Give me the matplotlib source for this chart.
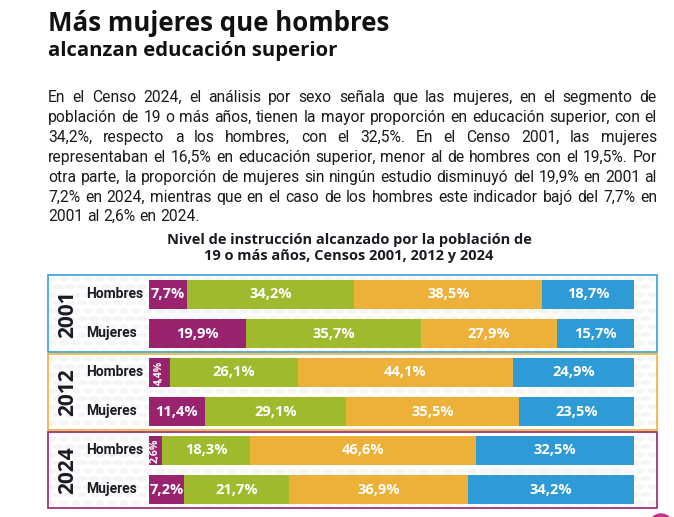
import matplotlib
matplotlib.use('Agg')
import matplotlib.pyplot as plt
from matplotlib.patches import Rectangle, Circle, Ellipse

# ---------------- data ----------------
years = ['2001', '2012', '2024']
sexes = ['Hombres', 'Mujeres']
levels = ['Ninguno', 'Básico', 'Secundario', 'Superior']
ninguno = [7.7, 19.9, 4.4, 11.4, 2.6, 7.2]
basico = [34.2, 35.7, 26.1, 29.1, 18.3, 21.7]
secundario = [38.5, 27.9, 44.1, 35.5, 46.6, 36.9]
superior = [18.7, 15.7, 24.9, 23.5, 32.5, 34.2]
labels_txt = [
    ['7,7%', '34,2%', '38,5%', '18,7%'],
    ['19,9%', '35,7%', '27,9%', '15,7%'],
    ['4,4%', '26,1%', '44,1%', '24,9%'],
    ['11,4%', '29,1%', '35,5%', '23,5%'],
    ['2,6%', '18,3%', '46,6%', '32,5%'],
    ['7,2%', '21,7%', '36,9%', '34,2%'],
]
title = 'Más mujeres que hombres'
subtitle = 'alcanzan educación superior'
body = [
    'En el Censo 2024, el análisis por sexo señala que las mujeres, en el segmento de',
    'población de 19 o más años, tienen la mayor proporción en educación superior, con el',
    '34,2%, respecto a los hombres, con el 32,5%. En el Censo 2001, las mujeres',
    'representaban el 16,5% en educación superior, menor al de hombres con el 19,5%. Por',
    'otra parte, la proporción de mujeres sin ningún estudio disminuyó del 19,9% en 2001 al',
    '7,2% en 2024, mientras que en el caso de los hombres este indicador bajó del 7,7% en',
    '2001 al 2,6% en 2024.',
]
chart_title = ['Nivel de instrucción alcanzado por la población de',
               '19 o más años, Censos 2001, 2012 y 2024']

colors = ['#9A2370', '#A0BA2E', '#EDB038', '#2E9BD6']
box_colors = ['#3A9FD5', '#EDB038', '#9A2370']
dark = '#1b1b24'

W, H = 674, 517
fig = plt.figure(figsize=(W / 100, H / 100), dpi=100)
fig.patch.set_facecolor('white')
ax0 = fig.add_axes([0, 0, 1, 1])
ax0.set_xlim(0, W)
ax0.set_ylim(H, 0)
ax0.axis('off')
r = fig.canvas.get_renderer()


def width(s, **kw):
    t = ax0.text(0, 0, s, **kw)
    w = t.get_window_extent(r).width
    t.remove()
    return w


def fit(s, target, base=10, **kw):
    return base * target / width(s, fontsize=base, **kw)


# faint dotted background pattern (decoration)
for yy in range(279, 508, 8):
    off = 0 if ((yy - 279) // 8) % 2 == 0 else 6
    for xx in range(52 + off, 656, 12):
        ax0.add_patch(Ellipse((xx, yy), 10, 5, color='#f5f5f5', lw=0, zorder=0))

HEAD = dict(family='Open Sans', fontweight='bold', color='#111111')
fs_t = fit(title, 342, **HEAD)
ax0.text(48, 31, title, fontsize=fs_t, va='baseline', ha='left', **HEAD)
fs_s = fit(subtitle, 289, **HEAD)
ax0.text(48, 56, subtitle, fontsize=fs_s, va='baseline', ha='left', **HEAD)

# justified body text
BODY = dict(family='Roboto', color='#1a1a1a')
x_l, x_r = 48, 657
fs_b = fit(body[4], 602, **BODY)
sp = width('a a', fontsize=fs_b, **BODY) - width('aa', fontsize=fs_b, **BODY)
ys = [102, 122, 142, 162, 182, 202, 221]
for i, line in enumerate(body):
    words = line.split(' ')
    ws = [width(w, fontsize=fs_b, **BODY) for w in words]
    if i < len(body) - 1:
        gap = (x_r - x_l - sum(ws)) / (len(words) - 1)
    else:
        gap = sp
    x = x_l
    for w, wd in zip(words, ws):
        ax0.text(x, ys[i], w, fontsize=fs_b, va='baseline', ha='left', **BODY)
        x += wd + gap

CT = dict(family='Open Sans', fontweight='bold', color=dark)
fs_c = fit(chart_title[0], 368, **CT)
ax0.text(349, 240, chart_title[0], fontsize=fs_c, ha='center', va='center', **CT)
ax0.text(349, 256, chart_title[1], fontsize=fs_c, ha='center', va='center', **CT)

ax0.add_patch(Circle((661, 526), 12, color='#C2338A'))

# ---------------- bars ----------------
bx0, bx1 = 149, 634   # bar span in px
px_per = (bx1 - bx0) / 100
left_px, right_px, top_px, bot_px = 47, 658, 275, 509
ax = fig.add_axes([left_px / W, 1 - bot_px / H, (right_px - left_px) / W, (bot_px - top_px) / H])
ax.set_xlim((left_px - bx0) / px_per, (right_px - bx0) / px_per)
ax.set_ylim(5.5, -0.5)
ax.axis('off')
ax.patch.set_alpha(0)

series = [ninguno, basico, secundario, superior]
rows = list(range(6))
totals = [sum(s[i] for s in series) for i in rows]
lefts = [0.0] * 6
LBL = dict(family='Open Sans', fontweight='bold', color='white')
for k, s in enumerate(series):
    vals = [s[i] / totals[i] * 100 for i in rows]
    ax.barh(rows, vals, left=lefts, height=0.76, color=colors[k], edgecolor='none')
    for i in rows:
        cx = lefts[i] + vals[i] / 2
        if vals[i] < 5:
            ax.text(cx, i, labels_txt[i][k], rotation=90, ha='center', va='center',
                    fontsize=7.5, **LBL)
        else:
            ax.text(cx, i, labels_txt[i][k], ha='center', va='center', fontsize=10.5, **LBL)
    lefts = [lefts[i] + vals[i] for i in rows]

xmin, xmax = ax.get_xlim()
lw = 1.2
RL = dict(family='Roboto', fontweight='bold', color=dark)
fs_r = fit('Hombres', 57, **RL)
YL = dict(family='Open Sans', fontweight='bold', color=dark)
for g, yr in enumerate(years):
    y0 = 2 * g - 0.5 + (0.03 if g > 0 else 0.01)
    y1 = 2 * g + 1.5 - 0.02
    ax.add_patch(Rectangle((xmin + 0.15, y0), xmax - xmin - 0.3, y1 - y0, fill=False,
                           edgecolor=box_colors[g], linewidth=lw, clip_on=False))
    ax.text((68 - bx0) / px_per, 2 * g + 0.5, yr, rotation=90, ha='center', va='center',
            fontsize=15, **YL)
    for j, sx in enumerate(sexes):
        ax.text((86 - bx0) / px_per, 2 * g + j, sx, ha='left', va='center',
                fontsize=fs_r, **RL)

fig.savefig('out.png', dpi=100, facecolor='white')
